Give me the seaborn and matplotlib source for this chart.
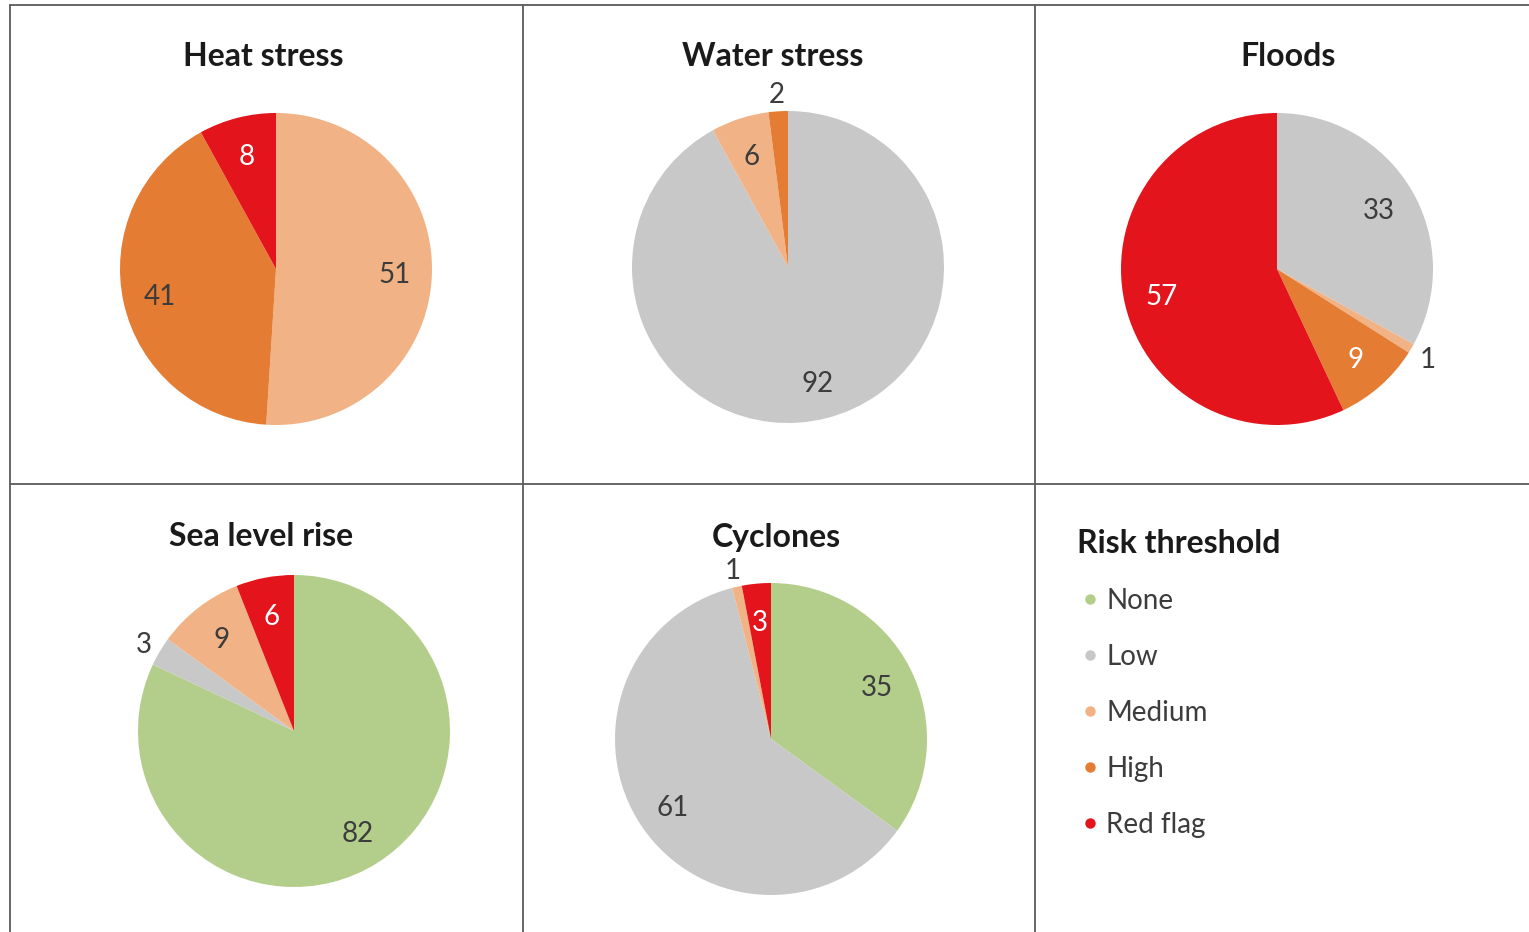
import numpy as np
import matplotlib
matplotlib.use("Agg")
import matplotlib.pyplot as plt
from matplotlib.lines import Line2D
import seaborn as sns

# Risk categories and the share (%) of sites in each, per hazard
categories = ["None", "Low", "Medium", "High", "Red flag"]
heat_stress = [0, 0, 51, 41, 8]
water_stress = [0, 92, 6, 2, 0]
floods = [0, 33, 1, 9, 57]
sea_level_rise = [82, 3, 9, 0, 6]
cyclones = [35, 61, 1, 0, 3]
hazard_titles = ["Heat stress", "Water stress", "Floods", "Sea level rise", "Cyclones"]
legend_title = "Risk threshold"

sns.set_theme(style="white")
plt.rcParams["font.family"] = ["Lato", "DejaVu Sans"]

palette = sns.color_palette(["#b3ce8b", "#c8c8c8", "#f1b386", "#e57c33", "#e3141c"])
cat_color = dict(zip(categories, palette))
DARK = "#3c3c3c"

W, H = 1529, 932
fig = plt.figure(figsize=(W / 100, H / 100), dpi=100)
fig.patch.set_facecolor("white")

def fx(px):
    return px / W

def fy(py):
    return 1 - py / H

# Panel grid lines
grid_col = "#5a5a5a"
lw = 1.3
for (x0, y0, x1, y1) in [(10, 5, W, 5), (10, 484, W, 484),
                         (10, 5, 10, H), (523, 5, 523, H), (1035, 5, 1035, H)]:
    fig.add_artist(Line2D([fx(x0), fx(x1)], [fy(y0), fy(y1)], color=grid_col, lw=lw))

R = 156
panels = [
    (heat_stress, (276, 269), (263, 57)),
    (water_stress, (788, 267), (773, 57)),
    (floods, (1277, 269), (1288, 57)),
    (sea_level_rise, (294, 731), (261, 537)),
    (cyclones, (771, 739), (776, 537)),
]
outside = {"Water stress": {"High"}, "Floods": {"Medium"},
           "Sea level rise": {"Low"}, "Cyclones": {"Medium"}}
light_text = {"Floods": {"High"}}

for title, (vals, (cx, cy), (tx, ty)) in zip(hazard_titles, panels):
    ax = fig.add_axes([fx(cx - R), fy(cy + R), 2 * R / W, 2 * R / H])
    ax.axis("off")
    cats = [c for c, v in zip(categories, vals) if v > 0]
    vs = [v for v in vals if v > 0]
    wedges, _ = ax.pie(vs, colors=[cat_color[c] for c in cats], startangle=90,
                       counterclock=False, radius=1.0,
                       wedgeprops=dict(linewidth=0))
    ax.set_xlim(-1, 1)
    ax.set_ylim(-1, 1)
    ax.set_aspect("equal")
    for w, c, v in zip(wedges, cats, vs):
        mid = np.deg2rad((w.theta1 + w.theta2) / 2)
        is_out = c in outside.get(title, set())
        r = 1.12 if is_out else 0.76
        if is_out:
            col = DARK
        elif c == "Red flag" or c in light_text.get(title, set()):
            col = "white"
        else:
            col = DARK
        ax.text(r * np.cos(mid), r * np.sin(mid), f"{v}", ha="center",
                va="center_baseline", fontsize=20, color=col, clip_on=False)
    fig.text(fx(tx), fy(ty), title, ha="center", va="center",
             fontsize=23, fontweight="bold", color="#1a1a1a")

# Legend in the last cell
handles = [Line2D([], [], marker="o", linestyle="", markersize=7.5,
                  markerfacecolor=cat_color[c], markeredgewidth=0) for c in categories]
leg = fig.legend(handles, categories, title=legend_title, loc="upper left",
                 bbox_to_anchor=(fx(1077), fy(529)), frameon=False,
                 fontsize=20, title_fontsize=23, labelspacing=1.08,
                 borderpad=0, borderaxespad=0,
                 handletextpad=0.1, handlelength=0.95, alignment="left")
leg.get_title().set_fontweight("bold")
leg.get_title().set_color("#1a1a1a")
for t in leg.get_texts():
    t.set_color(DARK)

fig.savefig("out.png", dpi=100, facecolor="white")
